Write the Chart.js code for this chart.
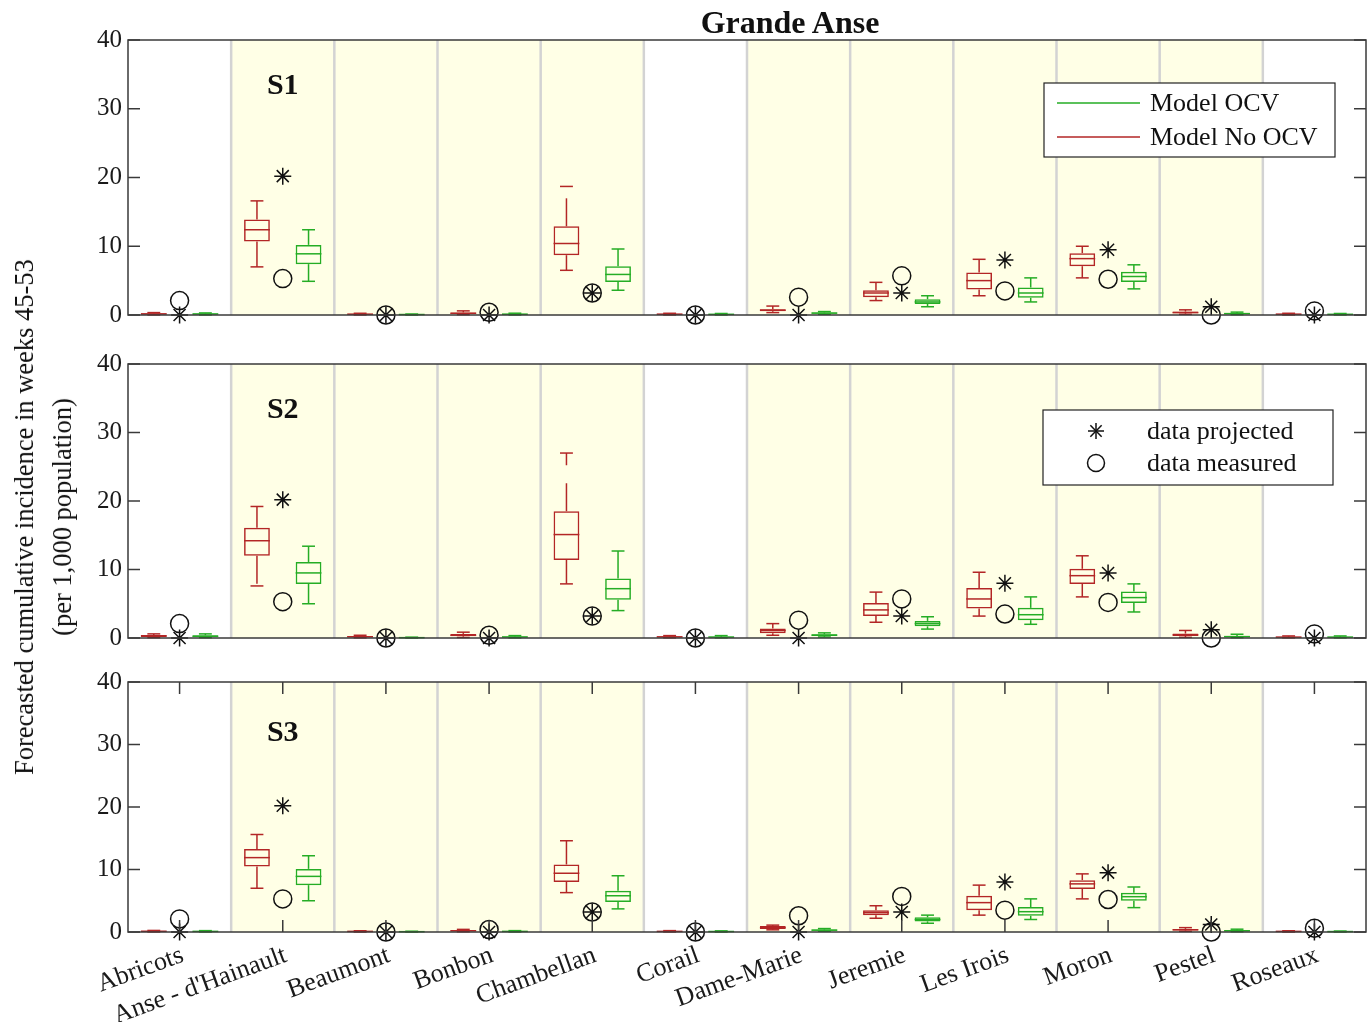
<!DOCTYPE html>
<html>
<head>
<meta charset="utf-8">
<title>Grande Anse</title>
<script src="https://cdn.jsdelivr.net/npm/chart.js@4.4.1/dist/chart.umd.min.js"></script>
<style>
  html, body { margin: 0; padding: 0; background: #ffffff; }
  #figure { position: relative; width: 1372px; height: 1022px; overflow: hidden;
            font-family: "Liberation Serif", "Times New Roman", serif; color: #111; }
  #figure canvas { position: absolute; left: 0; top: 0; }
  #mainTitle { position: absolute; left: 790px; top: 22px; transform: translate(-50%, -50%);
               font-weight: bold; font-size: 32px; white-space: nowrap; }
  #yTitle { position: absolute; left: 43px; top: 517px; transform: translate(-50%, -50%) rotate(-90deg);
            font-size: 26.5px; line-height: 38px; text-align: center; white-space: nowrap; }
</style>
</head>
<body>
<div id="figure">
  <canvas id="panelS1" width="1372" height="1022"></canvas>
  <canvas id="panelS2" width="1372" height="1022"></canvas>
  <canvas id="panelS3" width="1372" height="1022"></canvas>
  <div id="mainTitle">Grande Anse</div>
  <div id="yTitle">Forecasted cumulative incidence in weeks 45-53<br>(per 1,000 population)</div>
</div>
<script>
// Communes of Grande Anse department
const districts = ['Abricots', "Anse - d'Hainault", 'Beaumont', 'Bonbon', 'Chambellan', 'Corail',
                   'Dame-Marie', 'Jeremie', 'Les Irois', 'Moron', 'Pestel', 'Roseaux'];
// Communes highlighted with a tinted background
const highlighted = [false, true, true, true, true, false, true, true, true, true, true, false];
const yTickValues = [0, 10, 20, 30, 40];

// Observed cumulative incidence (per 1,000)
const dataProjected = [0, 20.2, 0, 0, 3.2, 0, 0, 3.2, 8.0, 9.5, 1.2, 0];
const dataMeasured  = [2.1, 5.3, 0, 0.4, 3.2, 0, 2.6, 5.7, 3.5, 5.2, 0, 0.6];

// Forecast distributions: [lower whisker, Q1, median, Q3, upper whisker]
const s1NoOcv = [[0.02,0.1,0.15,0.25,0.35],[7.0,10.7,12.4,13.9,16.6],[0.02,0.08,0.12,0.18,0.25],[0.05,0.15,0.25,0.38,0.6],
                 [6.5,8.7,10.4,12.9,18.7],[0.02,0.08,0.12,0.18,0.25],[0.35,0.55,0.7,0.85,1.3],[2.1,2.6,3.2,3.6,4.75],
                 [2.8,3.7,5.0,6.2,8.1],[5.4,7.1,8.2,9.0,10.0],[0.1,0.25,0.35,0.5,0.75],[0.02,0.08,0.12,0.18,0.25]];
const s1Ocv   = [[0.02,0.1,0.15,0.22,0.3],[4.9,7.4,8.9,10.2,12.4],[0.01,0.04,0.07,0.1,0.14],[0.02,0.08,0.12,0.18,0.26],
                 [3.6,4.8,5.9,7.1,9.6],[0.02,0.07,0.1,0.15,0.22],[0.1,0.2,0.28,0.38,0.5],[1.2,1.6,1.9,2.3,2.8],
                 [1.9,2.5,3.2,4.0,5.4],[3.8,4.8,5.6,6.3,7.3],[0.05,0.12,0.2,0.3,0.42],[0.02,0.07,0.1,0.15,0.22]];
const s2NoOcv = [[0.05,0.15,0.3,0.45,0.6],[7.6,12.0,14.2,16.1,19.2],[0.03,0.1,0.18,0.28,0.4],[0.08,0.25,0.4,0.6,0.85],
                 [7.9,11.4,15.1,18.5,27.0],[0.03,0.1,0.16,0.24,0.35],[0.4,0.7,1.1,1.4,2.1],[2.3,3.2,4.1,5.1,6.7],
                 [3.2,4.3,5.7,7.3,9.6],[6.0,7.9,9.1,10.1,12.0],[0.1,0.3,0.45,0.65,1.1],[0.03,0.08,0.13,0.2,0.3]];
const s2Ocv   = [[0.05,0.15,0.25,0.4,0.6],[5.0,7.9,9.5,11.1,13.4],[0.01,0.03,0.05,0.08,0.12],[0.03,0.1,0.15,0.22,0.35],
                 [4.0,5.6,7.2,8.7,12.7],[0.03,0.08,0.14,0.2,0.35],[0.15,0.3,0.42,0.55,0.75],[1.3,1.7,2.1,2.5,3.1],
                 [2.0,2.6,3.4,4.4,6.0],[3.8,5.1,5.9,6.8,7.9],[0.05,0.12,0.2,0.3,0.55],[0.03,0.08,0.13,0.2,0.3]];
const s3NoOcv = [[0.02,0.08,0.12,0.18,0.25],[7.0,10.5,11.9,13.3,15.6],[0.01,0.06,0.1,0.14,0.2],[0.04,0.12,0.2,0.3,0.42],
                 [6.3,8.0,9.4,10.8,14.6],[0.02,0.07,0.1,0.15,0.22],[0.35,0.5,0.7,0.95,1.1],[2.2,2.7,3.1,3.5,4.2],
                 [2.7,3.5,4.7,5.8,7.5],[5.3,6.9,7.7,8.3,9.3],[0.1,0.25,0.35,0.5,0.7],[0.01,0.06,0.1,0.14,0.2]];
const s3Ocv   = [[0.02,0.07,0.1,0.15,0.22],[5.0,7.5,8.9,10.1,12.2],[0.01,0.03,0.05,0.08,0.12],[0.02,0.06,0.1,0.15,0.22],
                 [3.7,4.8,5.8,6.6,9.0],[0.01,0.05,0.08,0.12,0.18],[0.12,0.22,0.3,0.4,0.55],[1.4,1.7,2.0,2.35,2.7],
                 [2.0,2.6,3.25,4.0,5.3],[3.9,5.0,5.65,6.3,7.2],[0.05,0.12,0.2,0.3,0.45],[0.01,0.04,0.07,0.1,0.15]];

const RED = '#b32626';
const GREEN = '#25ad25';
const AXIS = '#3a3a3a';
const SERIF = '"Liberation Serif", "Times New Roman", serif';

function seg(ctx, x1, y1, x2, y2) {
  ctx.beginPath(); ctx.moveTo(x1, y1); ctx.lineTo(x2, y2); ctx.stroke();
}
function drawStar(ctx, x, y, r) {
  seg(ctx, x - r, y, x + r, y);
  seg(ctx, x, y - r, x, y + r);
  const d = r * Math.SQRT1_2;
  seg(ctx, x - d, y - d, x + d, y + d);
  seg(ctx, x - d, y + d, x + d, y - d);
}
function drawRing(ctx, x, y, r) {
  ctx.beginPath(); ctx.arc(x, y, r, 0, Math.PI * 2); ctx.stroke();
}

// Background bands, separators, box whiskers, frame, ticks, panel tag and legends
const panelDecor = {
  id: 'panelDecor',
  beforeDatasetsDraw(chart, args, opts) {
    const { ctx, chartArea: a, scales: { x } } = chart;
    const step = x.getPixelForValue(1) - x.getPixelForValue(0);
    ctx.save();
    districts.forEach((d, i) => {
      if (!highlighted[i]) return;
      const cx = x.getPixelForValue(i);
      ctx.fillStyle = '#ffffe6';
      ctx.fillRect(cx - step / 2, a.top, step, a.bottom - a.top);
    });
    ctx.strokeStyle = '#d3d3d3';
    ctx.lineWidth = 2.5;
    for (let i = 1; i < districts.length; i++) {
      const bx = (x.getPixelForValue(i - 1) + x.getPixelForValue(i)) / 2;
      seg(ctx, bx, a.top, bx, a.bottom);
    }
    ctx.restore();
  },
  afterDatasetsDraw(chart, args, opts) {
    const { ctx, chartArea: a, scales: { x, y } } = chart;
    ctx.save();
    // medians, dashed whiskers and end caps for each box
    chart.data.datasets.forEach((ds, di) => {
      if (ds.type !== 'bar') return;
      const meta = chart.getDatasetMeta(di);
      ctx.strokeStyle = ds.borderColor;
      ctx.lineWidth = 1.5;
      meta.data.forEach((bar, i) => {
        const [lo, q1, med, q3, hi] = ds.stats[i];
        const { x: bx, width: w } = bar.getProps(['x', 'width'], true);
        const pLo = y.getPixelForValue(lo), pQ1 = y.getPixelForValue(q1);
        const pMed = y.getPixelForValue(med), pQ3 = y.getPixelForValue(q3), pHi = y.getPixelForValue(hi);
        seg(ctx, bx - w / 2, pMed, bx + w / 2, pMed);
        ctx.setLineDash([28, 18]);
        seg(ctx, bx, pQ3, bx, pHi);
        seg(ctx, bx, pQ1, bx, pLo);
        ctx.setLineDash([]);
        seg(ctx, bx - w / 4, pHi, bx + w / 4, pHi);
        seg(ctx, bx - w / 4, pLo, bx + w / 4, pLo);
      });
    });
    // axes frame with inward ticks
    ctx.strokeStyle = AXIS;
    ctx.lineWidth = 1.5;
    ctx.strokeRect(a.left, a.top, a.right - a.left, a.bottom - a.top);
    y.ticks.forEach(t => {
      const py = y.getPixelForValue(t.value);
      seg(ctx, a.left, py, a.left + 12, py);
      seg(ctx, a.right - 12, py, a.right, py);
    });
    if (opts.xTicks) {
      districts.forEach((d, i) => {
        const px = x.getPixelForValue(i);
        seg(ctx, px, a.top, px, a.top + 12);
        seg(ctx, px, a.bottom - 12, px, a.bottom);
      });
    }
    // scenario tag above the second commune
    ctx.fillStyle = '#111';
    ctx.font = 'bold 30px ' + SERIF;
    ctx.textAlign = 'center';
    ctx.textBaseline = 'middle';
    ctx.fillText(opts.tag, x.getPixelForValue(1), a.top + opts.tagOffset);
    ctx.restore();
  },
  afterDraw(chart, args, opts) {
    if (!opts.legend) return;
    const { ctx, chartArea: a } = chart;
    const L = opts.legend;
    const left = a.right - L.right - L.width, top = a.top + L.top;
    ctx.save();
    ctx.fillStyle = '#ffffff';
    ctx.fillRect(left, top, L.width, L.height);
    ctx.strokeStyle = '#222';
    ctx.lineWidth = 1.2;
    ctx.strokeRect(left, top, L.width, L.height);
    ctx.font = '26px ' + SERIF;
    ctx.textAlign = 'left';
    ctx.textBaseline = 'middle';
    L.items.forEach((it, k) => {
      const cy = top + L.firstRow + k * L.rowGap;
      ctx.lineWidth = 1.5;
      if (it.kind === 'line') {
        ctx.strokeStyle = it.color;
        seg(ctx, left + 13, cy, left + 96, cy);
      } else if (it.kind === 'star') {
        ctx.strokeStyle = '#111';
        drawStar(ctx, left + 53, cy, 8);
      } else {
        ctx.strokeStyle = '#111';
        drawRing(ctx, left + 53, cy, 8.5);
      }
      ctx.fillStyle = '#111';
      ctx.fillText(it.label, left + L.textX, cy + 1);
    });
    ctx.restore();
  }
};

function buildPanel(canvasId, cfg) {
  const datasets = [
    { type: 'bar', label: 'Model No OCV', stats: cfg.noOcv, data: cfg.noOcv.map(s => [s[1], s[3]]),
      borderColor: RED, backgroundColor: 'rgba(0,0,0,0)', borderWidth: 1.5, borderSkipped: false,
      barPercentage: 0.5, categoryPercentage: 1.0, grouped: true },
    { type: 'bar', label: 'Model OCV', stats: cfg.ocv, data: cfg.ocv.map(s => [s[1], s[3]]),
      borderColor: GREEN, backgroundColor: 'rgba(0,0,0,0)', borderWidth: 1.5, borderSkipped: false,
      barPercentage: 0.5, categoryPercentage: 1.0, grouped: true },
    { type: 'line', label: 'data projected', data: dataProjected, showLine: false, clip: false,
      pointStyle: 'star', pointRadius: 8.5, pointBorderColor: '#111', pointBorderWidth: 1.5,
      pointBackgroundColor: '#111' },
    { type: 'line', label: 'data measured', data: dataMeasured, showLine: false, clip: false,
      pointStyle: 'circle', pointRadius: 9, pointBorderColor: '#111', pointBorderWidth: 1.5,
      pointBackgroundColor: 'rgba(0,0,0,0)' }
  ];
  return new Chart(document.getElementById(canvasId), {
    type: 'bar',
    data: { labels: districts, datasets },
    plugins: [panelDecor],
    options: {
      responsive: false,
      animation: false,
      events: [],
      layout: { autoPadding: false, padding: { left: 0, right: 6, top: cfg.top, bottom: cfg.bottom } },
      plugins: {
        legend: { display: false },
        tooltip: { enabled: false },
        panelDecor: { tag: cfg.tag, tagOffset: cfg.tagOffset, xTicks: cfg.showX, legend: cfg.legend }
      },
      scales: {
        x: {
          type: 'category',
          offset: true,
          display: cfg.showX,
          grid: { display: false, drawTicks: false },
          border: { display: false },
          ticks: { autoSkip: false, minRotation: 20, maxRotation: 20, padding: 8, labelOffset: 3,
                   color: '#1a1a1a', font: { family: SERIF, size: 26 } },
          afterFit: s => { s.height = cfg.showX ? 90 : 0; }
        },
        y: {
          min: 0, max: 40,
          afterBuildTicks: s => { s.ticks = yTickValues.map(v => ({ value: v })); },
          grid: { display: false, drawTicks: false },
          border: { display: false },
          ticks: { padding: 6, color: '#1a1a1a', font: { family: SERIF, size: 25 } },
          afterFit: s => { s.width = 128; }
        }
      }
    }
  });
}

const modelLegend = { right: 31, width: 291, top: 43, height: 74, firstRow: 20, rowGap: 34, textX: 106,
  items: [ { kind: 'line', color: GREEN, label: 'Model OCV' }, { kind: 'line', color: RED, label: 'Model No OCV' } ] };
const dataLegend = { right: 33, width: 290, top: 46, height: 75, firstRow: 21, rowGap: 32, textX: 104,
  items: [ { kind: 'star', label: 'data projected' }, { kind: 'ring', label: 'data measured' } ] };

buildPanel('panelS1', { tag: 'S1', tagOffset: 46, noOcv: s1NoOcv, ocv: s1Ocv, top: 40, bottom: 1022 - 315, showX: false, legend: modelLegend });
buildPanel('panelS2', { tag: 'S2', tagOffset: 46, noOcv: s2NoOcv, ocv: s2Ocv, top: 364, bottom: 1022 - 638, showX: false, legend: dataLegend });
buildPanel('panelS3', { tag: 'S3', tagOffset: 51, noOcv: s3NoOcv, ocv: s3Ocv, top: 682, bottom: 0, showX: true, legend: null });
</script>
</body>
</html>
